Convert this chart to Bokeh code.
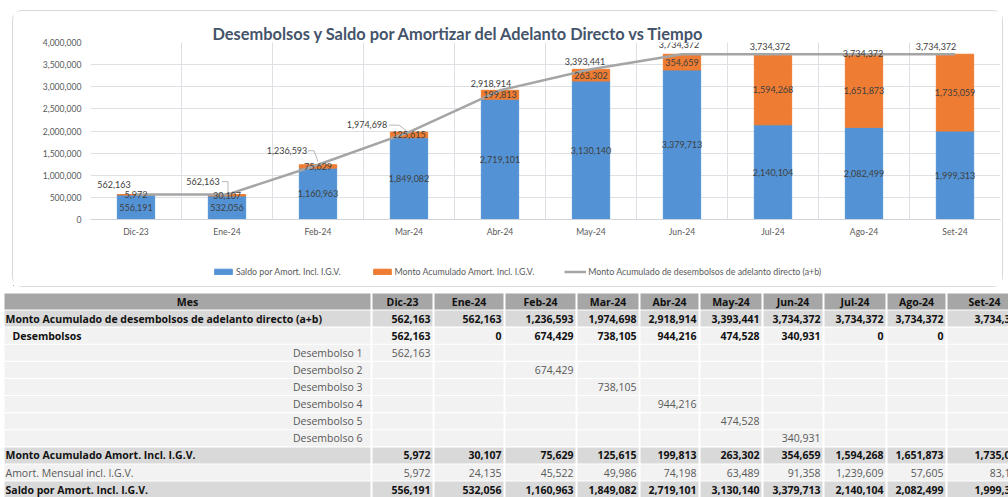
from bokeh.plotting import figure
from bokeh.models import (ColumnDataSource, FixedTicker, Range1d, Legend, LegendItem,
                          NumeralTickFormatter)
from bokeh.layouts import column
from bokeh.embed import file_html
from bokeh.resources import INLINE
from bokeh.core.properties import value

# ---------------- data ----------------
months = ["Dic-23", "Ene-24", "Feb-24", "Mar-24", "Abr-24", "May-24", "Jun-24", "Jul-24", "Ago-24", "Set-24"]
acum_desembolsos = [562163, 562163, 1236593, 1974698, 2918914, 3393441, 3734372, 3734372, 3734372, 3734372]
desembolsos = [562163, 0, 674429, 738105, 944216, 474528, 340931, 0, 0, 0]
desembolso_mes = ["Dic-23", "Feb-24", "Mar-24", "Abr-24", "May-24", "Jun-24"]
monto_acum_amort = [5972, 30107, 75629, 125615, 199813, 263302, 354659, 1594268, 1651873, 1735059]
amort_mensual = [5972, 24135, 45522, 49986, 74198, 63489, 91358, 1239609, 57605, 83186]
saldo = [556191, 532056, 1160963, 1849082, 2719101, 3130140, 3379713, 2140104, 2082499, 1999313]
y_ticks = [0, 500000, 1000000, 1500000, 2000000, 2500000, 3000000, 3500000, 4000000]

series_names = ["Saldo por Amort. Incl. I.G.V.", "Monto Acumulado Amort. Incl. I.G.V.",
                "Monto Acumulado de desembolsos de adelanto directo (a+b)"]
title_text = "Desembolsos y Saldo por Amortizar del Adelanto Directo vs Tiempo"

# ---------------- styles ----------------
FONT = "Lato"
TFONT = "Open Sans"
BLUE = "#5393d5"
ORANGE = "#ee7c32"
GRAY_LINE = "#a5a5a5"
LABEL_C = "#404040"
AXIS_C = "#595959"
GRID_C = "#dde1e6"

Y_MAX = 4000000
FRAME_W, FRAME_H = 910, 177
INNER_W = 989

# ---------------- chart ----------------
n = len(months)
xs = [i + 0.5 for i in range(n)]
src = ColumnDataSource(dict(
    x=xs, saldo=saldo, amort=monto_acum_amort, acum=acum_desembolsos,
    saldo_mid=[s / 2 for s in saldo],
    amort_mid=[s + a / 2 for s, a in zip(saldo, monto_acum_amort)],
    saldo_txt=[f"{v:,}" for v in saldo],
    amort_txt=[f"{v:,}" for v in monto_acum_amort],
    acum_txt=[f"{v:,}" for v in acum_desembolsos],
    lx_off=[-22, -24, -31, -42, -9, -6, -3, -3, -1, -19],
    ly_off=[-10, -13, -14, -8, -7, -8, -10, -8, -1, -8],
))

p = figure(width=INNER_W, height=249, x_range=Range1d(0, n), y_range=Range1d(0, Y_MAX),
           output_backend="svg", toolbar_location=None,
           min_border_left=77, min_border_right=2, min_border_top=31, min_border_bottom=41)
p.frame_align = False
p.outline_line_color = None
p.background_fill_color = "white"

p.title.text = title_text
p.title.align = "left"
p.title.offset = 122
p.title.standoff = 0
p.title.text_font = FONT
p.title.text_font_size = "16.4px"
p.title.text_font_style = "bold"
p.title.text_color = "#44546a"

rs = p.vbar_stack(["saldo", "amort"], x="x", width=0.41, color=[BLUE, ORANGE], source=src)
rl = p.line("x", "acum", source=src, line_color=GRAY_LINE, line_width=2.5)

# leader lines for three moved labels (pixel offsets from the point)
leader_px = {1: [(-5, -13), (1, -13), (1, -2)],
             2: [(-10, -14), (-4, -14), (0, -3)],
             3: [(-20, -7), (-10, -7), (-1, 0)]}
lx, ly = [], []
for i, pts in leader_px.items():
    lx.append([xs[i] + dx * n / FRAME_W for dx, dy in pts])
    ly.append([acum_desembolsos[i] - dy * Y_MAX / FRAME_H for dx, dy in pts])
p.multi_line(lx, ly, line_color="#a6a6a6", line_width=0.8)

common = dict(text_font=value(FONT), text_font_size="9px", text_color=LABEL_C,
              text_align="center", text_baseline="middle")
p.text(x="x", y="saldo_mid", text="saldo_txt", source=src, **common)
p.text(x="x", y="amort_mid", text="amort_txt", source=src, **common)
p.text(x="x", y="acum", text="acum_txt", x_offset="lx_off", y_offset="ly_off", source=src, **common)

p.xaxis.ticker = FixedTicker(ticks=xs)
p.xaxis.major_label_overrides = {x: m for x, m in zip(xs, months)}
p.xgrid.ticker = FixedTicker(ticks=list(range(n + 1)))
p.yaxis.ticker = FixedTicker(ticks=y_ticks)
p.ygrid.ticker = FixedTicker(ticks=y_ticks)
p.yaxis.formatter = NumeralTickFormatter(format="0,0")
p.grid.grid_line_color = GRID_C
p.grid.grid_line_width = 1
for ax in (p.xaxis, p.yaxis):
    ax.major_tick_line_color = None
    ax.minor_tick_line_color = None
    ax.major_tick_out = 0
    ax.major_tick_in = 0
    ax.minor_tick_out = 0
    ax.major_label_text_font = FONT
    ax.major_label_text_font_size = "8.6px"
    ax.major_label_text_color = AXIS_C
p.yaxis.axis_line_color = None
p.xaxis.axis_line_color = "#d0d4da"
p.yaxis.major_label_standoff = 9
p.xaxis.major_label_standoff = 7

# ---------------- legend strip (inside the chart box) ----------------
lf = figure(width=INNER_W, height=26, x_range=Range1d(0, INNER_W), y_range=Range1d(0, 26),
            output_backend="svg", toolbar_location=None, min_border=0,
            x_axis_location=None, y_axis_location=None)
lf.frame_align = False
lf.grid.visible = False
lf.outline_line_color = None
# legend-only renderers, their single point lies outside the visible range
lb = lf.vbar(x=[-100], top=[1], width=1, color=BLUE)
lo = lf.vbar(x=[-100], top=[1], width=1, color=ORANGE)
lg = lf.line(x=[-100, -90], y=[1, 1], line_color=GRAY_LINE, line_width=2.5)
legend = Legend(items=[LegendItem(label=series_names[0], renderers=[lb]),
                       LegendItem(label=series_names[1], renderers=[lo]),
                       LegendItem(label=series_names[2], renderers=[lg])],
                orientation="horizontal", location=(199, 9),
                label_text_font=FONT, label_text_font_size="8.8px", label_text_color=AXIS_C,
                glyph_width=22, glyph_height=7, spacing=30, padding=0, margin=0,
                border_line_color=None, background_fill_alpha=0, label_standoff=2,
                label_height=10)
lf.add_layout(legend, "center")

chart_box = column(p, lf, spacing=0, margin=(10, 5, 3, 12),
                   styles={"border": "1px solid #d9d9d9", "border-radius": "10px"})

# ---------------- table ----------------
t = figure(width=1008, height=207, x_range=Range1d(0, 1008), y_range=Range1d(497, 290),
           output_backend="svg", toolbar_location=None, min_border=0,
           x_axis_location=None, y_axis_location=None)
t.frame_align = False
t.grid.visible = False
t.outline_line_color = None

col_edges = [372, 434, 505, 577, 640, 700, 763, 824, 887, 947, 1026]
label_left, label_right = 4, 370
row_top0, row_pitch, row_h = 293, 17.1, 16

body = []  # (label, values, bold, bg, label_align)
body.append((series_names[2], acum_desembolsos, True, "#d9d9d9", "left0"))
body.append(("Desembolsos", desembolsos, True, "#f2f2f2", "left1"))
for k, m in enumerate(desembolso_mes):
    vals = [desembolsos[i] if months[i] == m else None for i in range(n)]
    body.append((f"Desembolso {k + 1}", vals, False, "#f2f2f2", "right"))
body.append(("Monto Acumulado Amort. Incl. I.G.V.", monto_acum_amort, True, "#d9d9d9", "left0"))
body.append(("Amort. Mensual incl. I.G.V.", amort_mensual, False, "#f2f2f2", "left0"))
body.append(("Saldo por Amort. Incl. I.G.V.", saldo, True, "#d9d9d9", "left0"))

ql, qr, qt, qb, qc = [], [], [], [], []
txt = {"bold": dict(x=[], y=[], t=[], a=[]), "normal": dict(x=[], y=[], t=[], a=[]),
       "head": dict(x=[], y=[], t=[], a=[])}


def cell(l, r, top, bg):
    ql.append(l); qr.append(r); qt.append(top); qb.append(top + row_h); qc.append(bg)


top = row_top0
cell(label_left, label_right, top, "#a6a6a6")
txt["head"]["x"].append((label_left + label_right) / 2); txt["head"]["y"].append(top + row_h / 2)
txt["head"]["t"].append("Mes"); txt["head"]["a"].append("center")
for i, m in enumerate(months):
    l, r = col_edges[i], col_edges[i + 1] - 2
    cell(l, r, top, "#a6a6a6")
    hx = (l + r) / 2 if i < n - 1 else 984
    txt["head"]["x"].append(hx); txt["head"]["y"].append(top + row_h / 2)
    txt["head"]["t"].append(m); txt["head"]["a"].append("center")

for j, (lab, vals, bold, bg, al) in enumerate(body):
    top = row_top0 + row_pitch * (j + 1)
    yc = top + row_h / 2
    key = "bold" if bold else "normal"
    cell(label_left, label_right, top, bg)
    if al == "right":
        lxp, la = label_right - 8, "right"
    elif al == "left1":
        lxp, la = label_left + 8, "left"
    else:
        lxp, la = label_left + 1, "left"
    txt[key]["x"].append(lxp); txt[key]["y"].append(yc); txt[key]["t"].append(lab); txt[key]["a"].append(la)
    for i, v in enumerate(vals):
        l, r = col_edges[i], col_edges[i + 1] - 2
        cell(l, r, top, bg)
        if v is not None:
            txt[key]["x"].append(r - 2); txt[key]["y"].append(yc)
            txt[key]["t"].append(f"{v:,}"); txt[key]["a"].append("right")

t.quad(left=ql, right=qr, top=qt, bottom=qb, fill_color=qc, line_color=None)
for key, color, style in (("head", "#111111", "bold"), ("bold", "#111111", "bold"),
                          ("normal", "#595959", "normal")):
    d = txt[key]
    t.text(x=d["x"], y=d["y"], text=d["t"], text_align=d["a"], text_baseline="middle",
           text_font=value(TFONT), text_font_size="10.5px", text_font_style=style, text_color=color)

layout = column(chart_box, t, spacing=0)
open("out.html", "w").write(file_html(layout, INLINE))
